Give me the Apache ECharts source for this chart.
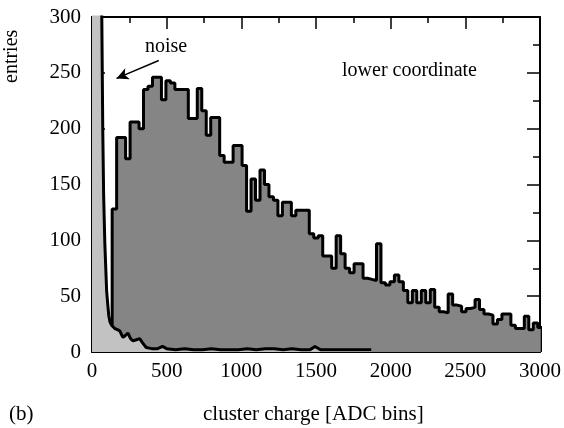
<!DOCTYPE html>
<html><head><meta charset="utf-8">
<script src="https://cdn.jsdelivr.net/npm/echarts@6/dist/echarts.min.js"></script>
<style>html,body{margin:0;padding:0;background:#fff}#c{width:564px;height:428px}</style>
</head><body><div id="c"></div>
<script>
// ---- data ----
const xTickLabels = ['0', '500', '1000', '1500', '2000', '2500', '3000'];
const yTickLabels = ['0', '50', '100', '150', '200', '250', '300'];
const signalBinStart = 135;
const signalBinWidth = 30;
const signalCounts = [128, 192, 192, 173, 206, 206, 200, 235, 238, 246, 246, 226, 243, 241, 235, 235, 235,
  209, 209, 236, 216, 194, 210, 210, 176, 170, 170, 185, 185, 167,
  126, 155, 136, 163, 150, 139, 136, 122, 134, 134, 122, 127, 127, 127, 106, 102,
  104, 86, 86, 75, 104, 88, 75, 71, 79, 79, 66, 65, 64, 97, 62, 60, 63,
  69, 63, 55, 44, 55, 44, 55, 44, 56, 40, 36, 35, 52, 42, 41, 36, 39,
  40, 47, 38, 34, 33, 25, 29, 34, 34, 24, 21, 21, 32, 20, 26, 22];
const noiseCharge = [0, 20, 40, 55, 65, 72, 78, 86, 98, 104, 112, 120, 131, 153, 170, 186, 200, 208, 225, 241, 258, 275, 297, 319, 340, 363, 400, 440, 472, 500, 560, 620, 680, 740, 800, 860, 920, 980, 1040, 1100, 1160, 1220, 1280, 1340, 1400, 1460, 1493, 1530, 1600, 1680, 1760, 1870];
const noiseEntries = [2500, 1500, 800, 450, 310, 200, 140, 97, 55, 45, 33, 27, 24, 21, 20, 19, 15, 13, 15, 17, 12, 10, 11, 12, 8, 4, 3, 3, 5, 3, 2, 3, 2, 2, 3, 2, 2, 2, 3, 2, 3, 3, 2, 3, 2, 2, 5, 2, 2, 2, 2, 2];
const arrowFrom = [447, 261];
const arrowTo = [164, 245];

// ---- build ----
const n = signalCounts.length;
const signalPts = [[signalBinStart, 0]];
signalCounts.forEach((c, i) => signalPts.push([signalBinStart + i * signalBinWidth, c]));
signalPts.push([signalBinStart + n * signalBinWidth, signalCounts[n - 1]]);
signalPts.push([signalBinStart + n * signalBinWidth, 0]);
const noisePts = noiseCharge.map((x, i) => [x, noiseEntries[i]]);

const FONT = 'Liberation Serif';
const black = { color: '#000', width: 1.5 };
function xAx(pos, labels) {
  return {
    type: 'value', position: pos, min: 0, max: 3000, interval: 500,
    axisLine: { show: true, onZero: false, lineStyle: { color: '#000', width: 2 } },
    axisTick: { show: true, inside: true, length: 12, lineStyle: black },
    minorTick: { show: true, splitNumber: 2, length: 6, lineStyle: black },
    splitLine: { show: false },
    axisLabel: { show: labels, fontFamily: FONT, fontSize: 21, color: '#000', margin: 9,
      formatter: v => xTickLabels[Math.round(v / 500)] }
  };
}
function yAx(pos, labels) {
  return {
    type: 'value', position: pos, min: 0, max: 300, interval: 50,
    axisLine: { show: true, onZero: false, lineStyle: { color: '#000', width: 2 } },
    axisTick: { show: true, inside: true, length: 13, lineStyle: black },
    minorTick: { show: true, splitNumber: 2, length: 7, lineStyle: black },
    splitLine: { show: false },
    axisLabel: { show: labels, fontFamily: FONT, fontSize: 21, color: '#000', margin: 11,
      formatter: v => yTickLabels[Math.round(v / 50)] }
  };
}

const chart = echarts.init(document.getElementById('c'), null, { renderer: 'canvas' });
chart.setOption({
  animation: false,
  backgroundColor: '#fff',
  grid: { left: 92, right: 20, top: 17, bottom: 76 },
  xAxis: [xAx('bottom', true), xAx('top', false)],
  yAxis: [yAx('left', true), yAx('right', false)],
  series: [
    {
      type: 'line', data: signalPts, step: 'end', symbol: 'none', z: 2,
      lineStyle: { color: '#000', width: 3 },
      areaStyle: { color: '#858585', opacity: 1 }
    },
    {
      type: 'line', data: noisePts, symbol: 'none', z: 3,
      lineStyle: { color: '#000', width: 3 },
      areaStyle: { color: '#c2c2c2', opacity: 1 },
      markLine: {
        silent: true, symbol: ['none', 'arrow'], symbolSize: [9, 12],
        label: { show: false },
        lineStyle: { color: '#000', width: 1.5, type: 'solid' },
        data: [[{ coord: arrowFrom }, { coord: arrowTo }]]
      }
    }
  ],
  graphic: [
    { type: 'text', left: 145, top: 37, style: { text: 'noise', font: '20px "Liberation Serif"', fill: '#000' } },
    { type: 'text', left: 342, top: 61, style: { text: 'lower coordinate', font: '20px "Liberation Serif"', fill: '#000' } },
    { type: 'text', x: 2, y: 83, rotation: Math.PI / 2, style: { text: 'entries', font: '20px "Liberation Serif"', fill: '#000' } },
    { type: 'text', left: 9, top: 404, style: { text: '(b)', font: '21px "Liberation Serif"', fill: '#000' } },
    { type: 'text', left: 203, top: 404, style: { text: 'cluster charge [ADC bins]', font: '21px "Liberation Serif"', fill: '#000' } }
  ]
});
</script></body></html>
